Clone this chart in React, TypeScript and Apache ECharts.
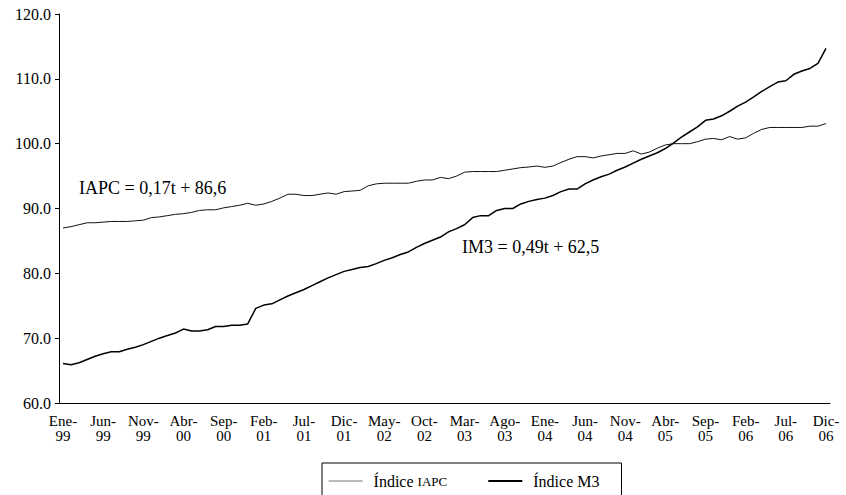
import React, { useEffect, useRef } from "react";
import * as echarts from "echarts";

const monthNames = ["Ene", "Feb", "Mar", "Abr", "May", "Jun", "Jul", "Ago", "Sep", "Oct", "Nov", "Dic"];
const years = ["99", "00", "01", "02", "03", "04", "05", "06"];
const categories: string[] = [];
years.forEach((y) => monthNames.forEach((m) => categories.push(m + "-" + y)));

const iapc = [
  87.0, 87.2, 87.5, 87.8, 87.8, 87.9, 88.0, 88.0, 88.0, 88.1, 88.2, 88.6,
  88.7, 88.9, 89.1, 89.2, 89.4, 89.7, 89.8, 89.8, 90.1, 90.3, 90.5, 90.8,
  90.5, 90.7, 91.1, 91.6, 92.2, 92.2, 92.0, 92.0, 92.2, 92.4, 92.2, 92.6,
  92.7, 92.8, 93.5, 93.8, 93.9, 93.9, 93.9, 93.9, 94.2, 94.4, 94.4, 94.8,
  94.6, 95.0, 95.6, 95.7, 95.7, 95.7, 95.7, 95.9, 96.1, 96.3, 96.4, 96.55,
  96.35, 96.55, 97.1, 97.6, 98.0, 98.0, 97.8, 98.1, 98.3, 98.5, 98.5, 98.9,
  98.4, 98.7, 99.3, 99.8, 100.0, 100.0, 100.0, 100.3, 100.7, 100.8, 100.6, 101.1,
  100.7, 100.9, 101.6, 102.2, 102.5, 102.5, 102.5, 102.5, 102.5, 102.7, 102.7, 103.1,
];

const m3 = [
  66.1, 65.9, 66.2, 66.7, 67.2, 67.6, 67.9, 67.9, 68.3, 68.6, 69.0, 69.5,
  70.0, 70.4, 70.8, 71.4, 71.1, 71.1, 71.3, 71.8, 71.8, 72.0, 72.0, 72.2,
  74.6, 75.1, 75.3, 75.9, 76.5, 77.0, 77.5, 78.1, 78.7, 79.3, 79.8, 80.3,
  80.6, 80.9, 81.05, 81.5, 82.0, 82.4, 82.9, 83.3, 84.0, 84.6, 85.1, 85.6,
  86.4, 86.9, 87.5, 88.6, 88.9, 88.9, 89.7, 90.0, 90.0, 90.7, 91.1, 91.4,
  91.6, 92.0, 92.6, 93.0, 93.0, 93.8, 94.4, 94.9, 95.3, 95.9, 96.4, 97.0,
  97.6, 98.1, 98.6, 99.25, 100.1, 101.0, 101.8, 102.6, 103.6, 103.8, 104.3, 105.0,
  105.8, 106.4, 107.2, 108.05, 108.8, 109.5, 109.7, 110.7, 111.2, 111.6, 112.4, 114.7,
];

const seriesNames = ["Índice IAPC", "Índice M3"];
const annotations = ["IAPC = 0,17t + 86,6", "IM3 = 0,49t + 62,5"];

const FONT = "'Liberation Serif', 'Times New Roman', serif";

export default function App() {
  const ref = useRef<HTMLDivElement>(null);
  useEffect(() => {
    if (!ref.current) return;
    const chart = echarts.init(ref.current, undefined, { renderer: "svg" });
    chart.setOption({
      animation: false,
      backgroundColor: "#fff",
      textStyle: { fontFamily: FONT, color: "#000" },
      grid: { left: 59, right: 16, top: 14, bottom: 92, containLabel: false },
      xAxis: {
        type: "category",
        data: categories,
        boundaryGap: true,
        axisLine: { lineStyle: { color: "#000", width: 1 } },
        axisTick: { interval: 4, length: 4, lineStyle: { color: "#000" } },
        axisLabel: {
          interval: 4,
          margin: 10,
          fontFamily: FONT,
          fontSize: 15,
          lineHeight: 15,
          color: "#000",
          formatter: (v: string) => v.replace("-", "-\n"),
        },
        splitLine: { show: false },
      },
      yAxis: {
        type: "value",
        min: 60,
        max: 120,
        interval: 10,
        axisLine: { show: true, lineStyle: { color: "#000", width: 1 } },
        axisTick: { show: true, length: 4, lineStyle: { color: "#000" } },
        axisLabel: {
          margin: 8,
          fontFamily: FONT,
          fontSize: 16,
          color: "#000",
          formatter: (v: number) => v.toFixed(1),
        },
        splitLine: { show: false },
      },
      legend: {
        left: 322,
        top: 463,
        orient: "horizontal",
        borderColor: "#000",
        borderWidth: 1,
        padding: [10, 22, 24, 6],
        itemGap: 40,
        itemWidth: 34,
        itemHeight: 14,
        data: [
          {
            name: seriesNames[0],
            lineStyle: { color: "#777", width: 1.2 },
            itemStyle: { opacity: 0 },
          },
          {
            name: seriesNames[1],
            lineStyle: { color: "#000", width: 2.2 },
            itemStyle: { opacity: 0 },
          },
        ],
        formatter: (name: string) =>
          name === seriesNames[0] ? "{a|Índice }{b|IAPC}" : "{a|Índice M3}",
        textStyle: {
          fontFamily: FONT,
          color: "#000",
          rich: {
            a: { fontFamily: FONT, fontSize: 16, color: "#000", padding: [0, 0, 0, 6] },
            b: { fontFamily: FONT, fontSize: 13, color: "#000" },
          },
        },
      },
      graphic: [
        {
          type: "text",
          left: 79,
          top: 179,
          style: { text: annotations[0], font: "18px " + FONT, fill: "#000" },
        },
        {
          type: "text",
          left: 462,
          top: 238,
          style: { text: annotations[1], font: "18px " + FONT, fill: "#000" },
        },
      ],
      series: [
        {
          name: seriesNames[0],
          type: "line",
          data: iapc,
          showSymbol: false,
          symbol: "none",
          lineStyle: { color: "#111", width: 1 },
          itemStyle: { color: "#111" },
        },
        {
          name: seriesNames[1],
          type: "line",
          data: m3,
          showSymbol: false,
          symbol: "none",
          lineStyle: { color: "#000", width: 1.5 },
          itemStyle: { color: "#000" },
        },
      ],
    });
    return () => chart.dispose();
  }, []);
  return (
    <div
      ref={ref}
      style={{ position: "fixed", left: 0, top: 0, width: 846, height: 495 }}
    />
  );
}
